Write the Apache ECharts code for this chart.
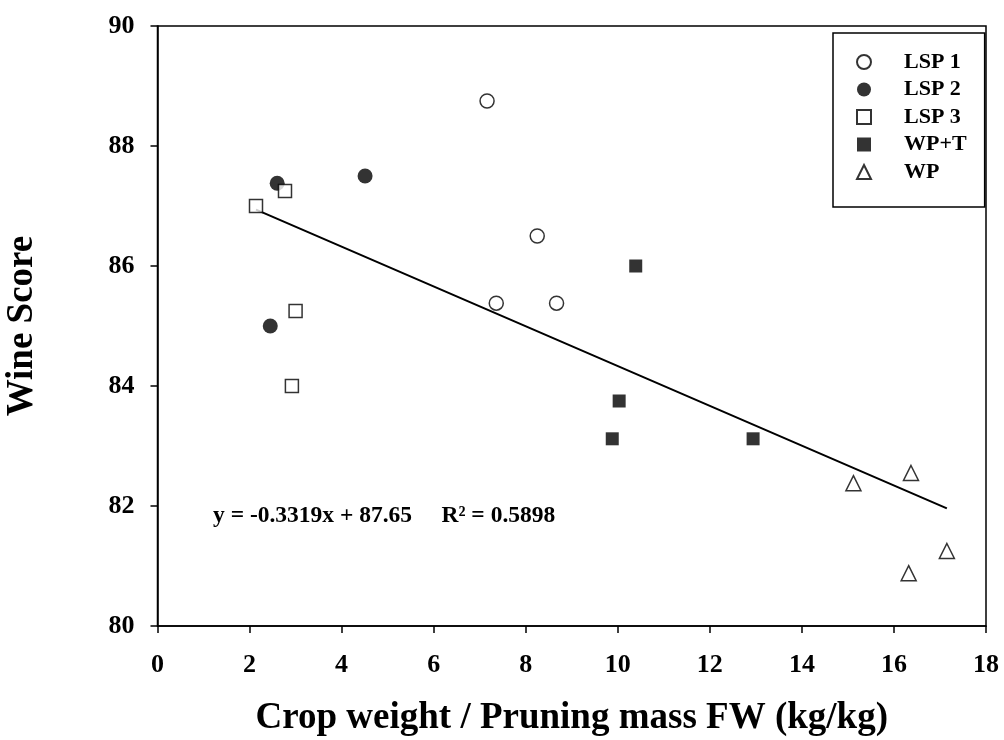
<!DOCTYPE html>
<html>
<head>
<meta charset="utf-8">
<script src="https://cdn.jsdelivr.net/npm/echarts@6/dist/echarts.min.js"></script>
<style>html,body{margin:0;padding:0;background:#fff}#c{width:1004px;height:740px}</style>
</head>
<body>
<div id="c"></div>
<script>
var xTicks = [0, 2, 4, 6, 8, 10, 12, 14, 16, 18];
var yTicks = [80, 82, 84, 86, 88, 90];
var seriesNames = ['LSP 1', 'LSP 2', 'LSP 3', 'WP+T', 'WP'];
var lsp1 = [[7.16, 88.75], [8.25, 86.5], [7.36, 85.38], [8.67, 85.38]];
var lsp2 = [[2.60, 87.38], [4.51, 87.5], [2.45, 85.0]];
var lsp3 = [[2.14, 87.0], [2.77, 87.25], [3.0, 85.25], [2.92, 84.0]];
var wpt = [[10.39, 86.0], [10.03, 83.75], [9.88, 83.12], [12.94, 83.12]];
var wp = [[15.12, 82.38], [16.37, 82.55], [17.15, 81.25], [16.32, 80.88]];
var trend = [[2.14, 86.94], [17.15, 81.96]];
var equationText = 'y = -0.3319x + 87.65     R² = 0.5898';
var xTitle = 'Crop weight / Pruning mass FW (kg/kg)';
var yTitle = 'Wine Score';

var FONT = '"Liberation Serif", "Times New Roman", serif';
var openStyle = {color: '#fff', borderColor: '#000', borderWidth: 1.5};
var fillStyle = {color: '#000', borderColor: '#000', borderWidth: 0};

var chart = echarts.init(document.getElementById('c'), null, {renderer: 'canvas'});
chart.setOption({
  animation: false,
  backgroundColor: '#fff',
  grid: {left: 157.5, right: 18, top: 26, bottom: 114, outerBoundsMode: 'none', containLabel: false,
         show: true, borderColor: '#000', borderWidth: 1.5, backgroundColor: 'transparent'},
  xAxis: {
    type: 'value', min: xTicks[0], max: xTicks[xTicks.length - 1], interval: 2,
    splitLine: {show: false},
    axisLine: {lineStyle: {color: '#000', width: 1.5}},
    axisTick: {inside: false, length: 7, lineStyle: {color: '#000', width: 1.5}},
    axisLabel: {color: '#000', fontFamily: FONT, fontWeight: 'bold', fontSize: 26, margin: 26},
    name: xTitle, nameLocation: 'middle', nameGap: 74,
    nameTextStyle: {color: '#000', fontFamily: FONT, fontWeight: 'bold', fontSize: 37}
  },
  yAxis: {
    type: 'value', min: yTicks[0], max: yTicks[yTicks.length - 1], interval: 2,
    splitLine: {show: false},
    axisLine: {lineStyle: {color: '#000', width: 1.5}},
    axisTick: {inside: false, length: 7, lineStyle: {color: '#000', width: 1.5}},
    axisLabel: {color: '#000', fontFamily: FONT, fontWeight: 'bold', fontSize: 26, margin: 23},
    name: yTitle, nameLocation: 'middle', nameGap: 117, nameRotate: 90,
    nameTextStyle: {color: '#000', fontFamily: FONT, fontWeight: 'bold', fontSize: 37}
  },
  legend: {
    data: seriesNames,
    orient: 'vertical', left: 833, top: 33,
    backgroundColor: '#fff',
    borderColor: '#000', borderWidth: 1.5, borderRadius: 0,
    padding: [18, 18, 24, 23],
    itemWidth: 14, itemHeight: 14, itemGap: 5.5,
    textStyle: {color: '#000', fontFamily: FONT, fontWeight: 'bold', fontSize: 22, padding: [0, 0, 0, 28]}
  },
  graphic: [{
    type: 'text', left: 213, top: 504,
    style: {text: equationText, fill: '#000', font: 'bold 23.5px ' + FONT}
  }],
  series: [
    {name: seriesNames[0], type: 'scatter', data: lsp1, symbol: 'circle', symbolSize: 14, itemStyle: openStyle, z: 3},
    {name: seriesNames[1], type: 'scatter', data: lsp2, symbol: 'circle', symbolSize: 15, itemStyle: fillStyle, z: 3},
    {name: seriesNames[2], type: 'scatter', data: lsp3, symbol: 'rect', symbolSize: 13, itemStyle: openStyle, z: 4},
    {name: seriesNames[3], type: 'scatter', data: wpt, symbol: 'rect', symbolSize: 13, itemStyle: fillStyle, z: 3},
    {name: seriesNames[4], type: 'scatter', data: wp, symbol: 'triangle', symbolSize: 15, itemStyle: openStyle, z: 3},
    {name: 'trend', type: 'line', data: trend, showSymbol: false, symbol: 'none', lineStyle: {color: '#000', width: 2}, z: 2, silent: true}
  ]
});
</script>
</body>
</html>
